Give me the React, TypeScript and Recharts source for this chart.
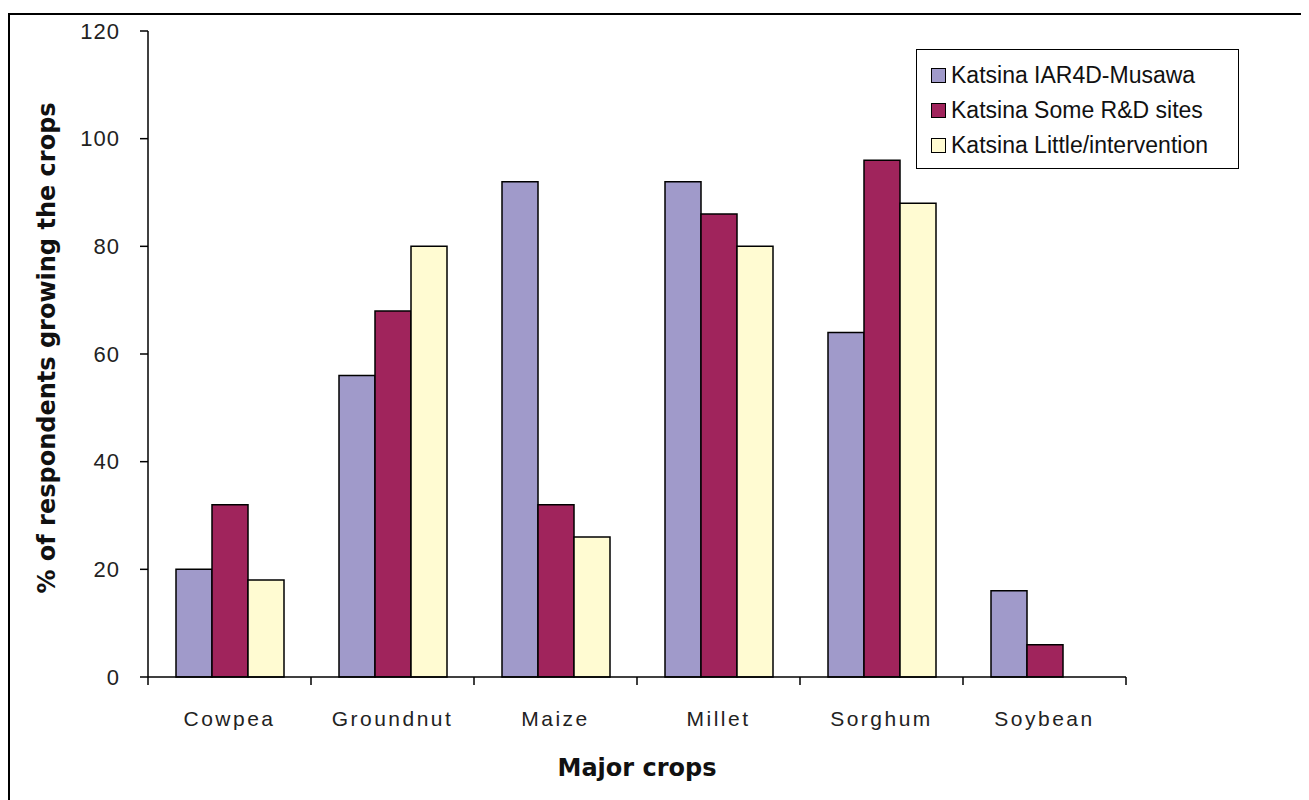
import React from 'react';
import { BarChart, Bar, XAxis, YAxis, Legend } from 'recharts';

const crops = ['Cowpea', 'Groundnut', 'Maize', 'Millet', 'Sorghum', 'Soybean'];
const musawa = [20, 56, 92, 92, 64, 16];
const someRD = [32, 68, 32, 86, 96, 6];
const little = [18, 80, 26, 80, 88, 0];
const yTicks = [0, 20, 40, 60, 80, 100, 120];

const seriesNames = ['Katsina IAR4D-Musawa', 'Katsina Some R&D sites', 'Katsina Little/intervention'];
const seriesColors = ['#A09ACA', '#A0245C', '#FFFBD2'];

const data = crops.map((c, i) => ({
  crop: c,
  musawa: musawa[i],
  someRD: someRD[i],
  little: little[i],
}));

const TICK_FONT = '"Liberation Sans", Arial, sans-serif';
const BOLD_FONT = '"DejaVu Sans", Verdana, sans-serif';

const CategoryTick = (props: any) => {
  const { x, y, payload, index, visibleTicksCount } = props;
  const off = payload && typeof payload.offset === 'number' ? payload.offset : 0;
  const isLast = index === visibleTicksCount - 1;
  return (
    <g>
      <line x1={x - off} y1={y} x2={x - off} y2={y + 8} stroke="#000" strokeWidth={1.5} />
      {isLast && <line x1={x + off} y1={y} x2={x + off} y2={y + 8} stroke="#000" strokeWidth={1.5} />}
      <text
        x={x}
        y={y + 41}
        textAnchor="middle"
        dominantBaseline="central"
        fontFamily={TICK_FONT}
        fontSize={21}
        letterSpacing={2.5}
        fill="#222"
      >
        {payload.value}
      </text>
    </g>
  );
};

const LegendContent = (props: any) => {
  const { payload } = props;
  return (
    <div
      style={{
        border: '1.5px solid #000',
        background: '#fff',
        width: 323,
        height: 120,
        boxSizing: 'border-box',
        padding: '8px 0 0 14px',
      }}
    >
      {(payload || []).map((p: any, i: number) => (
        <div
          key={i}
          style={{
            display: 'flex',
            alignItems: 'center',
            height: 35,
            fontFamily: TICK_FONT,
            fontSize: 23,
            color: '#111',
          }}
        >
          <span
            style={{
              display: 'inline-block',
              width: 13,
              height: 13,
              background: p.color,
              border: '1px solid #000',
              marginRight: 5,
            }}
          />
          <span>{p.value}</span>
        </div>
      ))}
    </div>
  );
};

export default function App() {
  return (
    <div style={{ position: 'relative', width: 1301, height: 792, overflow: 'hidden', background: '#fff' }}>
      <div
        style={{
          position: 'absolute',
          left: 0,
          top: 5,
          width: 1400,
          height: 900,
          borderTop: '2px solid #000',
          borderLeft: '2px solid #000',
        }}
      />
      <div style={{ position: 'absolute', left: 0, top: 0 }}>
        <BarChart
          width={1301}
          height={792}
          data={data}
          margin={{ top: 23, right: 183, left: 0, bottom: 0 }}
          barGap={0}
          barCategoryGap={28}
        >
          <XAxis
            dataKey="crop"
            height={123}
            tickLine={false}
            tickSize={0}
            tickMargin={0}
            axisLine={{ stroke: '#000', strokeWidth: 1.5 }}
            tick={<CategoryTick />}
            interval={0}
            label={{
              value: 'Major crops',
              position: 'insideBottom',
              offset: 24,
              style: { fontFamily: BOLD_FONT, fontWeight: 'bold', fontSize: 24, fill: '#111' },
            }}
          />
          <YAxis
            width={140}
            domain={[0, 120]}
            ticks={yTicks}
            interval={0}
            tickSize={8}
            tickMargin={20}
            axisLine={{ stroke: '#000', strokeWidth: 1.5 }}
            tickLine={{ stroke: '#000', strokeWidth: 1.5 }}
            tick={{ fontFamily: TICK_FONT, fontSize: 22, fill: '#222', letterSpacing: 1 }}
            label={{
              content: (lp: any) => {
                const vb = lp.viewBox || {};
                const cx = (vb.x || 0) + 39;
                const cy = (vb.y || 0) + (vb.height || 0) / 2 - 6;
                return (
                  <text
                    x={cx}
                    y={cy}
                    transform={`rotate(-90, ${cx}, ${cy})`}
                    textAnchor="middle"
                    dominantBaseline="central"
                    fontFamily={BOLD_FONT}
                    fontWeight="bold"
                    fontSize={24}
                    fill="#111"
                  >
                    % of respondents growing the crops
                  </text>
                );
              },
            }}
          />
          <Legend
            layout="vertical"
            verticalAlign="middle"
            align="center"
            itemSorter={(item: any) => seriesNames.indexOf(item.value)}
            content={<LegendContent />}
            wrapperStyle={{ position: 'absolute', left: 908, top: 41, width: 323 }}
          />
          <Bar dataKey="musawa" name={seriesNames[0]} fill={seriesColors[0]} stroke="#000" strokeWidth={1.5} isAnimationActive={false} />
          <Bar dataKey="someRD" name={seriesNames[1]} fill={seriesColors[1]} stroke="#000" strokeWidth={1.5} isAnimationActive={false} />
          <Bar dataKey="little" name={seriesNames[2]} fill={seriesColors[2]} stroke="#000" strokeWidth={1.5} isAnimationActive={false} />
        </BarChart>
      </div>
    </div>
  );
}
